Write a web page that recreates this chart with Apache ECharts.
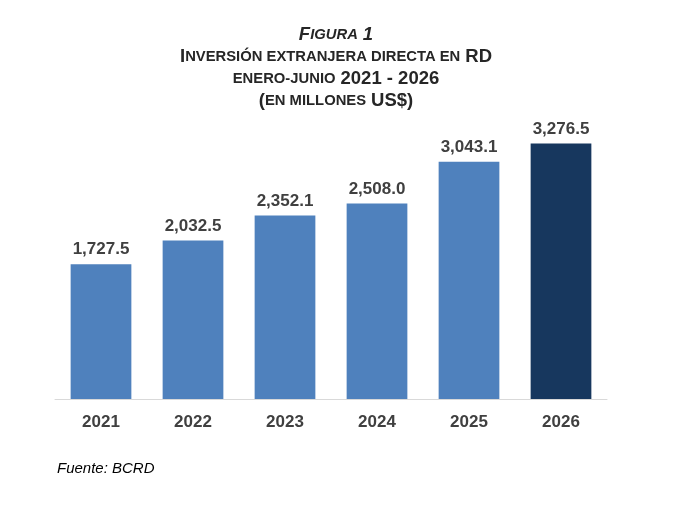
<!DOCTYPE html>
<html><head><meta charset="utf-8">
<script src="https://cdn.jsdelivr.net/npm/echarts@6/dist/echarts.min.js"></script>
<style>html,body{margin:0;padding:0;background:#fff}#c{width:696px;height:522px}</style>
</head><body><div id="c"></div>
<script>
const categories = ['2021','2022','2023','2024','2025','2026'];
const values = [1727.5, 2032.5, 2352.1, 2508.0, 3043.1, 3276.5];
const highlightIndex = 5;

const chart = echarts.init(document.getElementById('c'));
const font = '"Liberation Sans", Arial, sans-serif';
const big = {fontSize: 18.5, fontWeight: 'bold', color: '#262626', fontFamily: font, lineHeight: 22};
const small = {fontSize: 14.8, fontWeight: 'bold', color: '#262626', fontFamily: font, lineHeight: 22};
chart.setOption({
  animation: false,
  title: [{
    left: 331, top: 19, textAlign: 'center',
    text: '{it|F}{its|IGURA} {it|1}\n{b|I}{s|NVERSIÓN EXTRANJERA DIRECTA EN} {b|RD}\n{s|ENERO-JUNIO} {b|2021 - 2026}\n{b|(}{s|EN MILLONES} {b|US$)}',
    textStyle: {
      lineHeight: 22, align: 'center',
      rich: {
        it: Object.assign({}, big, {fontStyle: 'italic'}),
        its: Object.assign({}, small, {fontStyle: 'italic'}),
        b: big,
        s: small
      }
    }
  }, {
    left: 52, top: 456,
    text: 'Fuente: BCRD',
    textStyle: {fontSize: 15, fontStyle: 'italic', fontWeight: 'normal', color: '#000', fontFamily: font}
  }],
  grid: {left: 55, right: 89, top: 87, bottom: 123},
  xAxis: {
    type: 'category', data: categories,
    axisLine: {lineStyle: {color: '#d9d9d9', width: 1}},
    axisTick: {show: false},
    axisLabel: {fontSize: 17, fontWeight: 'bold', color: '#404040', margin: 15, fontFamily: font}
  },
  yAxis: {type: 'value', min: 0, max: 4000, show: false, splitLine: {show: false}},
  series: [{
    type: 'bar', barWidth: '66%',
    data: values.map((v, i) => ({value: v, itemStyle: {color: i === highlightIndex ? '#17375e' : '#4f81bd'}})),
    label: {
      show: true, position: 'top', distance: 6,
      formatter: p => p.value.toLocaleString('en-US', {minimumFractionDigits: 1, maximumFractionDigits: 1}),
      fontSize: 17, fontWeight: 'bold', color: '#404040', fontFamily: font
    }
  }]
});
</script></body></html>
